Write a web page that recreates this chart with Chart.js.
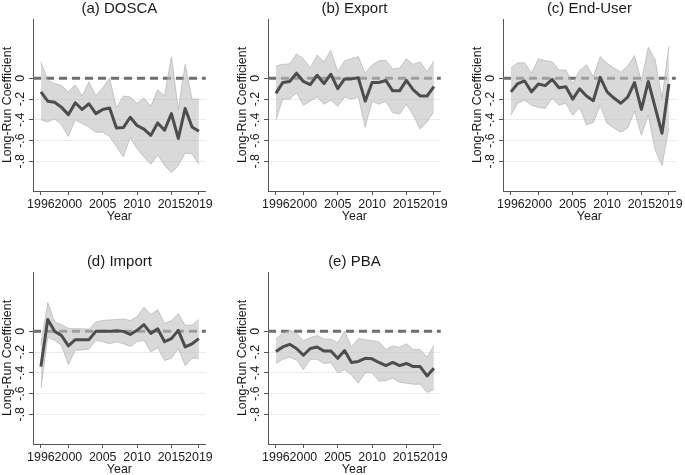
<!DOCTYPE html>
<html>
<head>
<meta charset="utf-8">
<script src="https://cdn.jsdelivr.net/npm/chart.js@4.4.1/dist/chart.umd.min.js"></script>
<style>
  html, body { margin: 0; padding: 0; background: #fff; overflow: hidden; }
  #fig { position: relative; width: 685px; height: 475px; }
  #fig canvas { position: absolute; }
</style>
</head>
<body>
<div id="fig">
  <canvas id="chart-a" width="215" height="240" style="left:0px;top:0px"></canvas>
  <canvas id="chart-b" width="215" height="240" style="left:235px;top:0px"></canvas>
  <canvas id="chart-c" width="215" height="240" style="left:470px;top:0px"></canvas>
  <canvas id="chart-d" width="215" height="240" style="left:0px;top:253px"></canvas>
  <canvas id="chart-e" width="215" height="240" style="left:235px;top:253px"></canvas>
</div>
<script>
const years = [1996, 1997, 1998, 1999, 2000, 2001, 2002, 2003, 2004, 2005, 2006, 2007,
               2008, 2009, 2010, 2011, 2012, 2013, 2014, 2015, 2016, 2017, 2018, 2019];
const xTicks = [1996, 2000, 2005, 2010, 2015, 2019];
const yTicks = [0, -0.2, -0.4, -0.6, -0.8];

// (a) DOSCA
const doscaCoef  = [-0.13, -0.22, -0.23, -0.28, -0.35, -0.235, -0.30, -0.245, -0.34, -0.30, -0.285, -0.48,
                    -0.475, -0.375, -0.455, -0.49, -0.55, -0.43, -0.50, -0.34, -0.58, -0.29, -0.47, -0.51];
const doscaUpper = [0.16, -0.02, -0.05, -0.07, -0.13, -0.065, -0.17, -0.035, -0.17, -0.09, 0.0, -0.285,
                    -0.17, -0.18, -0.24, -0.19, -0.27, -0.11, -0.17, 0.21, -0.30, 0.135, -0.20, -0.20];
const doscaLower = [-0.40, -0.42, -0.39, -0.45, -0.56, -0.40, -0.435, -0.47, -0.52, -0.52, -0.56, -0.66,
                    -0.76, -0.57, -0.68, -0.76, -0.83, -0.74, -0.84, -0.91, -0.84, -0.72, -0.73, -0.83];

// (b) Export
const exportCoef  = [-0.145, -0.04, -0.03, 0.05, -0.03, -0.06, 0.03, -0.05, 0.04, -0.10, -0.005, -0.005,
                     0.005, -0.22, -0.04, -0.04, -0.02, -0.12, -0.12, -0.02, -0.11, -0.17, -0.17, -0.08];
const exportUpper = [0.12, 0.135, 0.14, 0.235, 0.19, 0.10, 0.225, 0.16, 0.27, 0.065, 0.17, 0.19,
                     0.21, 0.05, 0.13, 0.17, 0.175, 0.09, 0.10, 0.19, 0.135, 0.16, 0.065, 0.17];
const exportLower = [-0.40, -0.20, -0.20, -0.14, -0.26, -0.22, -0.18, -0.25, -0.21, -0.27, -0.18, -0.20,
                     -0.18, -0.47, -0.22, -0.25, -0.22, -0.33, -0.345, -0.25, -0.355, -0.49, -0.42, -0.32];

// (c) End-User
const endUserCoef  = [-0.13, -0.05, -0.025, -0.13, -0.055, -0.07, -0.01, -0.09, -0.08, -0.20, -0.10, -0.17,
                      -0.215, 0.01, -0.13, -0.19, -0.24, -0.18, -0.04, -0.30, -0.03, -0.28, -0.53, -0.055];
const endUserUpper = [0.10, 0.15, 0.15, 0.05, 0.19, 0.17, 0.16, 0.08, 0.08, -0.05, 0.075, 0.13,
                      0.015, 0.21, 0.145, 0.10, 0.06, 0.12, 0.22, -0.03, 0.30, 0.18, -0.19, 0.31];
const endUserLower = [-0.355, -0.24, -0.21, -0.26, -0.28, -0.29, -0.19, -0.26, -0.24, -0.355, -0.28, -0.45,
                      -0.425, -0.26, -0.435, -0.48, -0.52, -0.48, -0.315, -0.55, -0.355, -0.69, -0.84, -0.48];

// (d) Import
const importCoef  = [-0.34, 0.115, 0.0, -0.04, -0.14, -0.08, -0.08, -0.08, 0.0, 0.0, 0.0, 0.005,
                     0.0, -0.03, 0.01, 0.065, -0.02, 0.025, -0.10, -0.07, 0.01, -0.15, -0.12, -0.07];
const importUpper = [-0.13, 0.28, 0.09, 0.065, 0.03, 0.025, 0.025, 0.02, 0.09, 0.105, 0.11, 0.115,
                     0.12, 0.105, 0.14, 0.235, 0.16, 0.21, 0.075, 0.105, 0.17, 0.06, 0.06, 0.115];
const importLower = [-0.55, -0.055, -0.085, -0.135, -0.32, -0.18, -0.18, -0.17, -0.085, -0.10, -0.12, -0.10,
                     -0.12, -0.145, -0.10, -0.085, -0.20, -0.16, -0.28, -0.26, -0.165, -0.33, -0.26, -0.26];

// (e) PBA
const pbaCoef  = [-0.195, -0.15, -0.125, -0.165, -0.23, -0.165, -0.15, -0.19, -0.19, -0.26, -0.185, -0.30,
                  -0.29, -0.26, -0.265, -0.30, -0.33, -0.30, -0.33, -0.31, -0.34, -0.34, -0.43, -0.355];
const pbaUpper = [-0.07, -0.02, 0.01, -0.02, -0.09, -0.06, -0.04, -0.075, -0.075, -0.11, 0.0, -0.15,
                  -0.07, -0.08, -0.09, -0.10, -0.175, -0.14, -0.155, -0.12, -0.175, -0.175, -0.25, -0.135];
const pbaLower = [-0.31, -0.27, -0.25, -0.275, -0.37, -0.27, -0.27, -0.31, -0.30, -0.40, -0.37, -0.42,
                  -0.50, -0.40, -0.40, -0.48, -0.475, -0.45, -0.49, -0.50, -0.51, -0.51, -0.59, -0.56];

const fontFamily = '"Liberation Sans", Arial, sans-serif';
const tickFont = { family: fontFamily, size: 12.4 };
const textColor = '#1a1a1a';
const axisColor = '#555555';

// title centred over the plot area, not the whole canvas
const panelTitle = {
    id: 'panelTitle',
    afterDraw(chart, args, opts) {
        const { ctx, chartArea } = chart;
        ctx.save();
        ctx.font = '15px ' + fontFamily;
        ctx.fillStyle = textColor;
        ctx.textAlign = 'center';
        ctx.textBaseline = 'middle';
        ctx.fillText(opts.text, (chartArea.left + chartArea.right) / 2, 9);
        ctx.restore();
    },
};

// dashed line at zero, under the (semi transparent) band
const zeroLine = {
    id: 'zeroLine',
    beforeDatasetsDraw(chart) {
        const { ctx, chartArea, scales } = chart;
        const y = scales.y.getPixelForValue(0);
        ctx.save();
        ctx.strokeStyle = '#6e6e6e';
        ctx.lineWidth = 3;
        ctx.setLineDash([8, 5]);
        ctx.beginPath();
        ctx.moveTo(chartArea.left, y);
        ctx.lineTo(chartArea.right, y);
        ctx.stroke();
        ctx.restore();
    },
};

const toPoints = (arr) => years.map((yr, i) => ({ x: yr, y: arr[i] }));

function makePanel(id, title, coef, upper, lower) {
    const canvas = document.getElementById(id);
    return new Chart(canvas, {
        type: 'line',
        data: {
            datasets: [
                {
                    data: toPoints(coef),
                    borderColor: '#4d4d4d',
                    borderWidth: 3,
                    borderJoinStyle: 'round',
                    pointRadius: 0,
                    fill: false,
                },
                {
                    data: toPoints(lower),
                    borderColor: 'rgba(170,170,170,0.6)',
                    borderWidth: 1,
                    pointRadius: 0,
                    fill: false,
                },
                {
                    data: toPoints(upper),
                    borderColor: 'rgba(170,170,170,0.6)',
                    borderWidth: 1,
                    pointRadius: 0,
                    fill: '-1',
                    backgroundColor: 'rgba(192,192,192,0.6)',
                },
            ],
        },
        options: {
            responsive: false,
            animation: false,
            layout: { padding: { top: 19, right: 8, bottom: 15, left: 0 } },
            plugins: {
                legend: { display: false },
                tooltip: { enabled: false },
                panelTitle: { text: title },
            },
            scales: {
                x: {
                    type: 'linear',
                    min: 1994.85,
                    max: 2020,
                    afterBuildTicks: (s) => { s.ticks = xTicks.map((v) => ({ value: v })); },
                    afterFit: (s) => { s.height = 34; },
                    grid: { drawOnChartArea: false, drawTicks: true, tickLength: 4, tickColor: axisColor, tickWidth: 1 },
                    border: { color: axisColor, width: 1 },
                    ticks: {
                        autoSkip: false,
                        minRotation: 0,
                        maxRotation: 0,
                        padding: 2,
                        color: textColor,
                        font: tickFont,
                        callback: (v) => String(v),
                    },
                    title: { display: true, text: 'Year', color: textColor, font: tickFont, padding: { top: 0, bottom: 1 } },
                },
                y: {
                    type: 'linear',
                    min: -1.087,
                    max: 0.573,
                    afterBuildTicks: (s) => { s.ticks = yTicks.map((v) => ({ value: v })); },
                    afterFit: (s) => { s.width = 33; },
                    grid: { color: '#ebebeb', lineWidth: 1, drawTicks: true, tickLength: 4, tickColor: axisColor },
                    border: { color: axisColor, width: 1 },
                    ticks: {
                        autoSkip: false,
                        minRotation: 90,
                        maxRotation: 90,
                        crossAlign: 'center',
                        padding: 1.5,
                        color: textColor,
                        font: tickFont,
                        callback: (v) => (v === 0 ? '0' : v.toFixed(1).replace('0.', '.')),
                    },
                    title: {
                        display: true,
                        text: 'Long-Run Coefficient',
                        color: textColor,
                        font: tickFont,
                        padding: { top: 0.6, bottom: 0 },
                    },
                },
            },
        },
        plugins: [panelTitle, zeroLine],
    });
}

makePanel('chart-a', '(a) DOSCA', doscaCoef, doscaUpper, doscaLower);
makePanel('chart-b', '(b) Export', exportCoef, exportUpper, exportLower);
makePanel('chart-c', '(c) End-User', endUserCoef, endUserUpper, endUserLower);
makePanel('chart-d', '(d) Import', importCoef, importUpper, importLower);
makePanel('chart-e', '(e) PBA', pbaCoef, pbaUpper, pbaLower);
</script>
</body>
</html>
